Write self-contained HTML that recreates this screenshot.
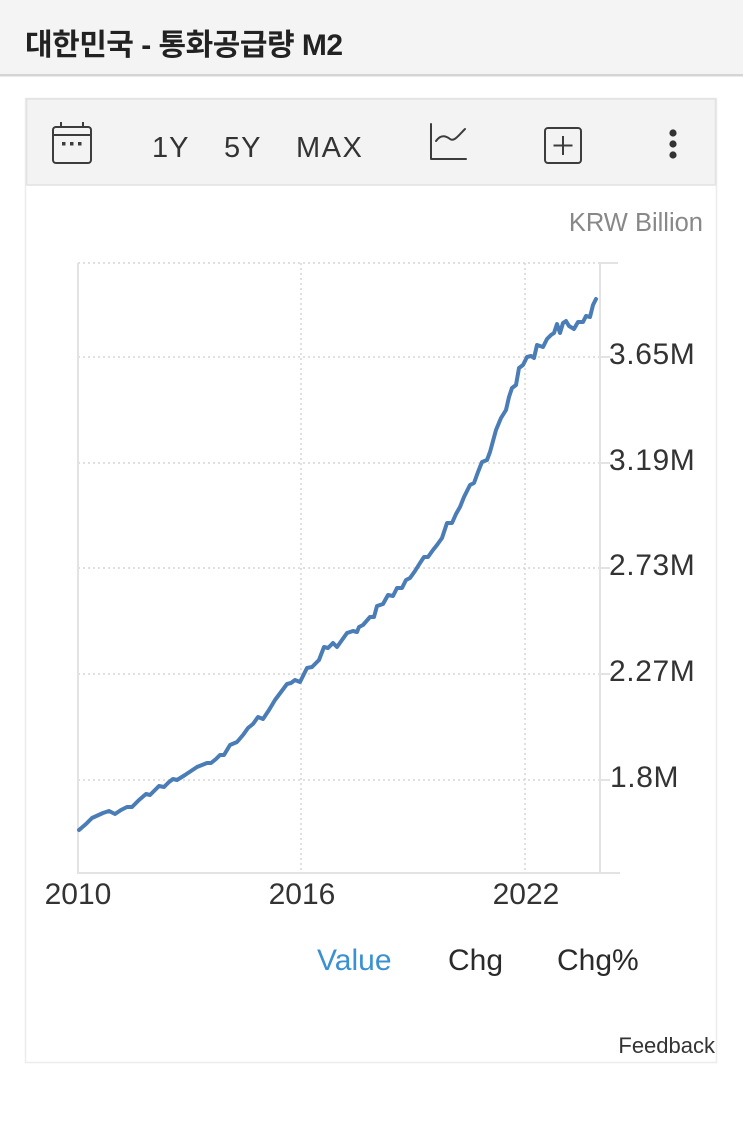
<!DOCTYPE html>
<html>
<head>
<meta charset="utf-8">
<style>
  html,body{margin:0;padding:0;background:#fff;}
  body{width:743px;height:1127px;overflow:hidden;position:relative;}
  svg{display:block;}
</style>
</head>
<body>
<svg width="743" height="1127" viewBox="0 0 743 1127" xmlns="http://www.w3.org/2000/svg">
  <!-- header -->
  <rect x="0" y="0" width="743" height="75" fill="#f4f4f4"/>
  <rect x="0" y="74" width="743" height="2.5" fill="#d4d4d4"/>
  <text x="25" y="55" font-family="'Liberation Sans','Noto Sans CJK KR',sans-serif" font-weight="bold" font-size="30" fill="#222" letter-spacing="-0.5">대한민국 - 통화공급량 M2</text>

  <!-- card border -->
  <rect x="25.5" y="98.5" width="691" height="964" fill="#fff" stroke="#ececec" stroke-width="1.5"/>
  <!-- toolbar -->
  <rect x="26.5" y="99" width="689" height="86" fill="#f3f3f3" stroke="#e2e2e2" stroke-width="1.5"/>

  <!-- calendar icon -->
  <g fill="none" stroke="#3c3c3c" stroke-width="2">
    <rect x="53" y="127" width="38" height="36" rx="3"/>
    <line x1="53" y1="135" x2="91" y2="135"/>
    <line x1="61" y1="122" x2="61" y2="128"/>
    <line x1="83" y1="122" x2="83" y2="128"/>
  </g>
  <g fill="#3c3c3c">
    <rect x="62" y="142" width="3.5" height="3.5"/>
    <rect x="70" y="142" width="3.5" height="3.5"/>
    <rect x="78" y="142" width="3.5" height="3.5"/>
  </g>

  <g font-family="'Liberation Sans',sans-serif" font-size="29" fill="#333">
    <text x="152" y="157" letter-spacing="1">1Y</text>
    <text x="224" y="157" letter-spacing="1">5Y</text>
    <text x="296" y="157" letter-spacing="1.5">MAX</text>
  </g>

  <!-- chart icon -->
  <g fill="none" stroke="#3c3c3c" stroke-width="2" stroke-linecap="round" stroke-linejoin="round">
    <polyline points="431,124 431,159 466,159"/>
    <path d="M436,141 C441,134 446,136 450,139 C454,142 458,136 465,129"/>
  </g>

  <!-- plus box -->
  <g fill="none" stroke="#3c3c3c" stroke-width="2">
    <rect x="545" y="128" width="36" height="35" rx="3"/>
    <line x1="563" y1="136" x2="563" y2="155"/>
    <line x1="553.5" y1="145.5" x2="572.5" y2="145.5"/>
  </g>

  <!-- dots -->
  <g fill="#333">
    <circle cx="673" cy="133" r="3.6"/>
    <circle cx="673" cy="144" r="3.6"/>
    <circle cx="673" cy="155" r="3.6"/>
  </g>

  <!-- units -->
  <text x="703" y="231" text-anchor="end" font-family="'Liberation Sans',sans-serif" font-size="25.5" fill="#888">KRW Billion</text>

  <!-- grid -->
  <g stroke="#d6d6d6" stroke-width="1.5" stroke-dasharray="2,3" fill="none">
    <line x1="78" y1="263" x2="600" y2="263"/>
    <line x1="78" y1="357" x2="600" y2="357"/>
    <line x1="78" y1="463" x2="600" y2="463"/>
    <line x1="78" y1="568" x2="600" y2="568"/>
    <line x1="78" y1="674" x2="600" y2="674"/>
    <line x1="78" y1="780" x2="600" y2="780"/>
    <line x1="301" y1="263" x2="301" y2="873"/>
    <line x1="525" y1="263" x2="525" y2="873"/>
  </g>
  <!-- axes -->
  <g stroke="#e3e3e3" stroke-width="2" fill="none">
    <line x1="78" y1="263" x2="78" y2="874"/>
    <line x1="77" y1="873" x2="620" y2="873"/>
    <line x1="600" y1="263" x2="600" y2="873"/>
    <line x1="600" y1="263" x2="618" y2="263"/>
    <line x1="600" y1="357" x2="610" y2="357"/>
    <line x1="600" y1="463" x2="610" y2="463"/>
    <line x1="600" y1="568" x2="610" y2="568"/>
    <line x1="600" y1="674" x2="610" y2="674"/>
    <line x1="600" y1="780" x2="610" y2="780"/>
  </g>

  <!-- y labels -->
  <g font-family="'Liberation Sans',sans-serif" font-size="30" fill="#333">
    <text x="609" y="364" letter-spacing="0.6">3.65M</text>
    <text x="609" y="470" letter-spacing="0.6">3.19M</text>
    <text x="609" y="575" letter-spacing="0.6">2.73M</text>
    <text x="609" y="681" letter-spacing="0.6">2.27M</text>
    <text x="610" y="787" letter-spacing="0.6">1.8M</text>
  </g>
  <!-- x labels -->
  <g font-family="'Liberation Sans',sans-serif" font-size="30" fill="#333" text-anchor="middle">
    <text x="78" y="904">2010</text>
    <text x="302" y="904">2016</text>
    <text x="526" y="904">2022</text>
  </g>

  <!-- series -->
  <polyline fill="none" stroke="#4a7db6" stroke-width="4" stroke-linejoin="round" stroke-linecap="round"
    points="79,830 86,824 92,818 103,813 109,811 115,814 121,810 127,807 132,807 139,800 146,794 150,795 155,790 159,786 164,787 169,782 173,779 177,780 185,775 191,771 197,767 202,765 207,763 211,763 216,759 220,755 224,755 230,745 237,742 243,735 248,728 253,724 258,717 263,719 269,710 275,700 281,692 287,684 291,683 295,680 300,682 304,674 307,668 312,667 317,662 319,660 324,647 328,648 333,643 337,647 342,640 347,633 353,631 357,632 359,627 363,625 370,617 374,617 377,606 383,604 388,595 393,596 397,588 402,588 406,580 410,578 415,571 420,563 424,557 428,557 433,550 437,545 442,538 447,523 452,523 456,514 460,507 464,497 470,485 474,483 478,472 482,462 487,460 490,452 496,430 501,418 506,410 509,397 512,388 516,385 519,368 523,365 527,357 531,356 534,358 537,345 543,347 547,339 551,335 554,333 557,324 560,333 563,323 566,321 569,326 574,329 578,322 583,322 586,316 590,317 593,305 596,299"/>

  <!-- tabs -->
  <g font-family="'Liberation Sans',sans-serif" font-size="30">
    <text x="317" y="970" fill="#3b90d2">Value</text>
    <text x="448" y="970" fill="#2a2a2a">Chg</text>
    <text x="557" y="970" fill="#2a2a2a">Chg%</text>
  </g>

  <text x="715" y="1053" text-anchor="end" font-family="'Liberation Sans',sans-serif" font-size="22" fill="#333">Feedback</text>
</svg>
</body>
</html>
